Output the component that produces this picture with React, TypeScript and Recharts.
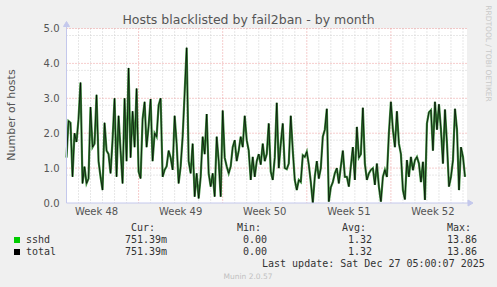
import React from 'react';
import { LineChart, Line, XAxis, YAxis, CartesianGrid, ReferenceDot } from 'recharts';

// one sample every 4 hours, split per calendar week (Mon..Sun)
const week48 = [1.3, 2.35, 2.3, 0.75, 2.0, 1.75, 2.4, 3.45, 0.56, 1.04, 0.56, 0.7, 2.75, 1.6, 1.7, 3.1, 1.2, 0.75,
  0.37, 2.3, 1.5, 1.4, 0.85, 1.8, 3.0, 0.75, 2.5, 1.5, 0.56, 3.0, 1.2, 3.87, 1.3, 2.63, 1.6, 3.28];
const week49 = [0.9, 0.7, 2.4, 2.9, 1.6, 2.2, 2.98, 1.2, 2.0, 1.9, 2.8, 3.0, 0.75, 0.95, 1.05, 1.5, 1.3, 0.95, 2.5, 1.7,
  0.56, 1.05, 1.9, 3.15, 4.45, 1.2, 0.85, 1.7, 0.18, 0.85, 0.13, 0.75, 1.9, 1.4, 2.55, 0.85, 0.47, 0.85, 0.18, 1.9, 1.2, 0.18];
const week50 = [2.65, 1.3, 1.05, 0.85, 1.05, 1.6, 1.8, 1.2, 1.5, 1.9, 1.6, 2.5, 1.8, 1.5, 0.66, 1.32, 0.75, 1.2, 1.4, 1.1,
  1.7, 1.2, 1.4, 2.28, 0.9, 0.66, 1.3, 2.87, 1.0, 1.7, 2.28, 1.0, 0.97, 1.13, 2.5, 1.5, 0.66, 0.37, 0.66, 0.6, 1.37, 1.32];
const week51 = [1.47, 1.1, 0.6, 0.0, 0.75, 1.2, 0.7, 1.0, 1.9, 2.1, 2.7, 0.04, 0.45, 0.6, 0.85, 1.0, 0.56, 1.05, 1.5, 0.75,
  0.75, 0.47, 1.05, 1.6, 0.66, 2.18, 1.3, 1.4, 2.73, 1.13, 0.66, 0.85, 0.95, 1.0, 0.52, 1.13, 0.47, 0.04, 0.75, 0.95, 0.75, 2.0];
const week52 = [2.9, 2.1, 1.6, 2.63, 1.7, 1.4, 0.37, 0.1, 1.23, 0.75, 1.32, 0.94, 1.23, 1.32, 1.13, 0.6, 1.18, 0.09, 2.28, 2.6,
  2.66, 1.5, 2.9, 2.1, 2.83, 2.1, 1.13, 2.68, 1.7, 0.47, 0.75, 1.23, 2.7, 2.1, 0.37, 1.6, 1.32, 0.75];

const STEP_HOURS = 4;
const sshd = [...week48, ...week49, ...week50, ...week51, ...week52];
const total = [...sshd]; // only one jail, so total == sshd

const weekLabels = ['Week 48', 'Week 49', 'Week 50', 'Week 51', 'Week 52'];
const weekLabelHours = [60, 228, 396, 564, 732];
const weekStartHours = [144, 312, 480, 648];
const yTicks = [0, 1, 2, 3, 4, 5];

const legendRows = [
  { name: 'sshd', color: '#00cc00', cur: '751.39m', min: '0.00', avg: '1.32', max: '13.86' },
  { name: 'total', color: '#000000', cur: '751.39m', min: '0.00', avg: '1.32', max: '13.86' },
];

const data = sshd.map((v, i) => ({ t: i * STEP_HOURS, sshd: v, total: total[i] }));

const minorY = Array.from({ length: 25 }, (_, i) => i * 0.2).filter((_, i) => i % 5 !== 0);
const minorX = Array.from({ length: 34 }, (_, i) => i * 24).filter(h => h > 0 && !weekStartHours.includes(h));

const AXIS = '#c4c8ec';
const SANS = '"DejaVu Sans", sans-serif';
const MONO = '"DejaVu Sans Mono", monospace';

export default function App() {
  return (
    <div style={{ position: 'absolute', left: 0, top: 0, width: 497, height: 287, background: '#f0f0f0' }}>
      <LineChart width={497} height={287} data={data} margin={{ top: 28.5, right: 30, bottom: 64, left: 36.5 }}>
        <CartesianGrid fill="#ffffff" stroke="#cfcfcf" strokeDasharray="1 2"
          horizontalValues={minorY} verticalValues={minorX} />
        <CartesianGrid stroke="#ec9a9a" strokeDasharray="1 2"
          horizontalValues={[1, 2, 3, 4, 5]} verticalValues={weekStartHours} />
        <XAxis dataKey="t" type="number" domain={[0, 800]} ticks={weekLabelHours} height={20}
          tickFormatter={(v: number) => weekLabels[weekLabelHours.indexOf(v)] ?? ''}
          tickLine={false} tickSize={0} tickMargin={5} stroke={AXIS}
          tick={{ fontSize: 10, fill: '#555', fontFamily: SANS }} />
        <YAxis type="number" domain={[0, 5]} ticks={yTicks} width={30}
          tickFormatter={(v: number) => v.toFixed(1)}
          tickLine={false} tickSize={0} tickMargin={7} stroke={AXIS}
          tick={{ fontSize: 10, fill: '#555', fontFamily: SANS }} />
        <Line type="linear" dataKey="sshd" stroke="#3f8f3f" strokeWidth={2.2} dot={false} isAnimationActive={false} />
        <Line type="linear" dataKey="total" stroke="#000000" strokeWidth={0.8} strokeOpacity={0.9} dot={false} isAnimationActive={false} />
        <ReferenceDot x={0} y={5} ifOverflow="visible" shape={(p: any) => (
          <path d={`M${p.cx},${p.cy} L${p.cx},${p.cy - 2} M${p.cx - 3},${p.cy - 2} L${p.cx},${p.cy - 7} L${p.cx + 3},${p.cy - 2} Z`}
            stroke={AXIS} fill={AXIS} />
        )} />
        <ReferenceDot x={800} y={0} ifOverflow="visible" shape={(p: any) => (
          <path d={`M${p.cx},${p.cy} L${p.cx + 1},${p.cy} M${p.cx + 1},${p.cy - 3} L${p.cx + 6},${p.cy} L${p.cx + 1},${p.cy + 3} Z`}
            stroke={AXIS} fill={AXIS} />
        )} />
      </LineChart>

      <svg width={497} height={287} style={{ position: 'absolute', left: 0, top: 0, pointerEvents: 'none' }}>
        <text x={248.5} y={23.5} textAnchor="middle" fontFamily={SANS} fontSize={12.5} fill="#555">
          Hosts blacklisted by fail2ban - by month
        </text>
        <text x={15} y={115} textAnchor="middle" transform="rotate(-90 15 115)" fontFamily={SANS} fontSize={11} fill="#555">
          Number of hosts
        </text>
        <text x={486} y={53.5} textAnchor="middle" transform="rotate(90 486 53.5)" fontFamily={SANS} fontSize={7.5} fill="#c8c8c8">
          RRDTOOL / TOBI OETIKER
        </text>

        <g fontFamily={MONO} fontSize={10} fill="#333">
          <text x={131} y={231}>Cur:</text>
          <text x={237} y={231}>Min:</text>
          <text x={342} y={231}>Avg:</text>
          <text x={447} y={231}>Max:</text>
          {legendRows.map((r, i) => {
            const y = 243 + i * 12;
            return (
              <g key={r.name}>
                <rect x={14} y={y - 6} width={6} height={6} fill={r.color} />
                <text x={26} y={y}>{r.name}</text>
                <text x={125} y={y}>{r.cur}</text>
                <text x={243} y={y}>{r.min}</text>
                <text x={348} y={y}>{r.avg}</text>
                <text x={447} y={y}>{r.max}</text>
              </g>
            );
          })}
          <text x={262} y={267}>Last update: Sat Dec 27 05:00:07 2025</text>
        </g>
        <text x={248} y={279} textAnchor="middle" fontFamily={SANS} fontSize={7.5} fill="#c0c0c0">Munin 2.0.57</text>
      </svg>
    </div>
  );
}
